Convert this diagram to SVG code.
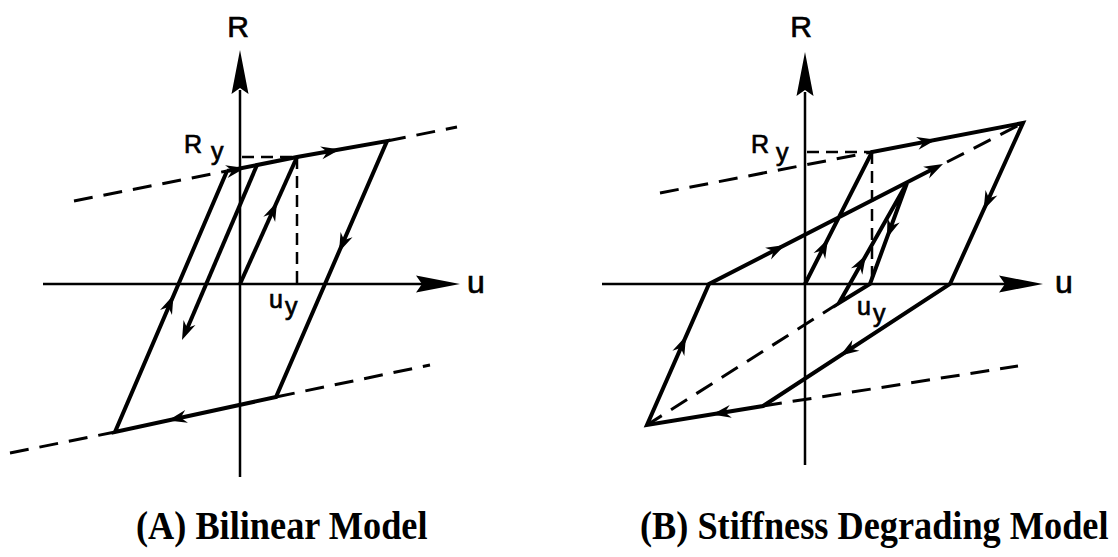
<svg xmlns="http://www.w3.org/2000/svg" xmlns:xlink="http://www.w3.org/1999/xlink" width="1118" height="557" viewBox="0 0 1118 557">
<style>
.ax{stroke:#000;stroke-width:2.5;fill:none}
.th{stroke:#000;stroke-width:4;fill:none;stroke-linejoin:miter;stroke-miterlimit:10}
.ds{stroke:#000;stroke-width:3;fill:none;stroke-dasharray:19 11}
.dg{stroke:#000;stroke-width:2.5;fill:none;stroke-dasharray:12 7}
.lb{font-family:"Liberation Sans",Arial,sans-serif;fill:#000;stroke:#000;stroke-width:0.7}
.cap{font-family:"Liberation Serif","Times New Roman",serif;font-weight:bold;font-size:41px;fill:#000}
</style>
<defs>
<path id="ah" d="M0,0 L-19,-6.5 L-13,0 L-19,6.5 Z" fill="#000"/>
<path id="axh" d="M0,0 L-44,-8.5 L-38,0 L-44,8.5 Z" fill="#000"/>
</defs>
<g id="panelA">
<g id="axesA">
<line class="ax" x1="43" y1="284" x2="425" y2="284"/>
<use xlink:href="#axh" transform="translate(460,284)"/>
<line class="ax" x1="240" y1="477" x2="240" y2="90"/>
<use xlink:href="#axh" transform="translate(240,50) rotate(-90)"/>
</g>
<g id="guidesA">
<line class="ds" x1="74" y1="201" x2="227" y2="171"/>
<line class="ds" x1="387" y1="141" x2="457" y2="127"/>
<line class="ds" x1="10" y1="453" x2="115" y2="432"/>
<line class="ds" x1="276" y1="397" x2="430" y2="365"/>
<line class="dg" x1="242" y1="157" x2="297" y2="157"/>
<line class="dg" x1="297" y1="157" x2="297" y2="284"/>
</g>
<g id="curveA">
<polyline class="th" points="240,284 297,157"/>
<polyline class="th" points="227,171 297,157 387,141 276,397 115,432 227,171"/>
<line class="th" x1="257" y1="165" x2="187" y2="329"/>
<use xlink:href="#ah" transform="translate(277,202) rotate(-65.8)"/>
<use xlink:href="#ah" transform="translate(340,149.5) rotate(-10.5)"/>
<use xlink:href="#ah" transform="translate(339,252) rotate(113.4)"/>
<use xlink:href="#ah" transform="translate(168,420.5) rotate(167.7)"/>
<use xlink:href="#ah" transform="translate(173.5,295) rotate(-66.8)"/>
<use xlink:href="#ah" transform="translate(245,168) rotate(-11.3)"/>
<use xlink:href="#ah" transform="translate(182,340) rotate(113.3)"/>
</g>
<g id="labelsA">
<text class="lb" x="238" y="37" font-size="30" text-anchor="middle">R</text>
<text class="lb" x="467" y="293" font-size="32">u</text>
<text class="lb" x="184" y="153" font-size="25">R</text>
<text class="lb" x="211" y="160" font-size="25">y</text>
<text class="lb" x="269" y="308" font-size="25">u</text>
<text class="lb" x="285" y="315" font-size="25">y</text>
</g>
</g>
<g id="panelB">
<g id="axesB">
<line class="ax" x1="602" y1="284" x2="1005" y2="284"/>
<use xlink:href="#axh" transform="translate(1043,284)"/>
<line class="ax" x1="805" y1="465" x2="805" y2="92"/>
<use xlink:href="#axh" transform="translate(805,52) rotate(-90)"/>
</g>
<g id="guidesB">
<line class="ds" x1="660" y1="193" x2="872" y2="152"/>
<line class="ds" x1="763" y1="406" x2="1018" y2="366"/>
<line class="ds" x1="839" y1="303" x2="647" y2="425"/>
<line class="ds" x1="947" y1="162" x2="1021" y2="124"/>
<line class="dg" x1="807" y1="152" x2="872" y2="152"/>
<line class="dg" x1="872" y1="152" x2="872" y2="284"/>
</g>
<g id="curveB">
<polyline class="th" points="805,284 872,152 1023,123 950,284 763,406 647,425 709,284 933,169"/>
<polyline class="th" points="907,183 870,284 839,303 907,183"/>
<use xlink:href="#ah" transform="translate(828,239) rotate(-63.1)"/>
<use xlink:href="#ah" transform="translate(936,139.7) rotate(-10.9)"/>
<use xlink:href="#ah" transform="translate(983.6,210) rotate(114.4)"/>
<use xlink:href="#ah" transform="translate(840,355.8) rotate(146.9)"/>
<use xlink:href="#ah" transform="translate(712,414.4) rotate(170.7)"/>
<use xlink:href="#ah" transform="translate(686,336) rotate(-66.3)"/>
<use xlink:href="#ah" transform="translate(785,245) rotate(-27.1)"/>
<use xlink:href="#ah" transform="translate(943,164) rotate(-27.1)"/>
<use xlink:href="#ah" transform="translate(887,238) rotate(110.1)"/>
<use xlink:href="#ah" transform="translate(866,255) rotate(-60.5)"/>
</g>
<g id="labelsB">
<text class="lb" x="801" y="37" font-size="30" text-anchor="middle">R</text>
<text class="lb" x="1055" y="293" font-size="32">u</text>
<text class="lb" x="751" y="153" font-size="25">R</text>
<text class="lb" x="776" y="161" font-size="25">y</text>
<text class="lb" x="857" y="315" font-size="25">u</text>
<text class="lb" x="873" y="322" font-size="25">y</text>
</g>
</g>
<g id="captions">
<text class="cap" transform="translate(136,539) scale(0.885,1)" x="0" y="0">(A) Bilinear Model</text>
<text class="cap" transform="translate(640,539) scale(0.885,1)" x="0" y="0">(B) Stiffness Degrading Model</text>
</g>
</svg>
